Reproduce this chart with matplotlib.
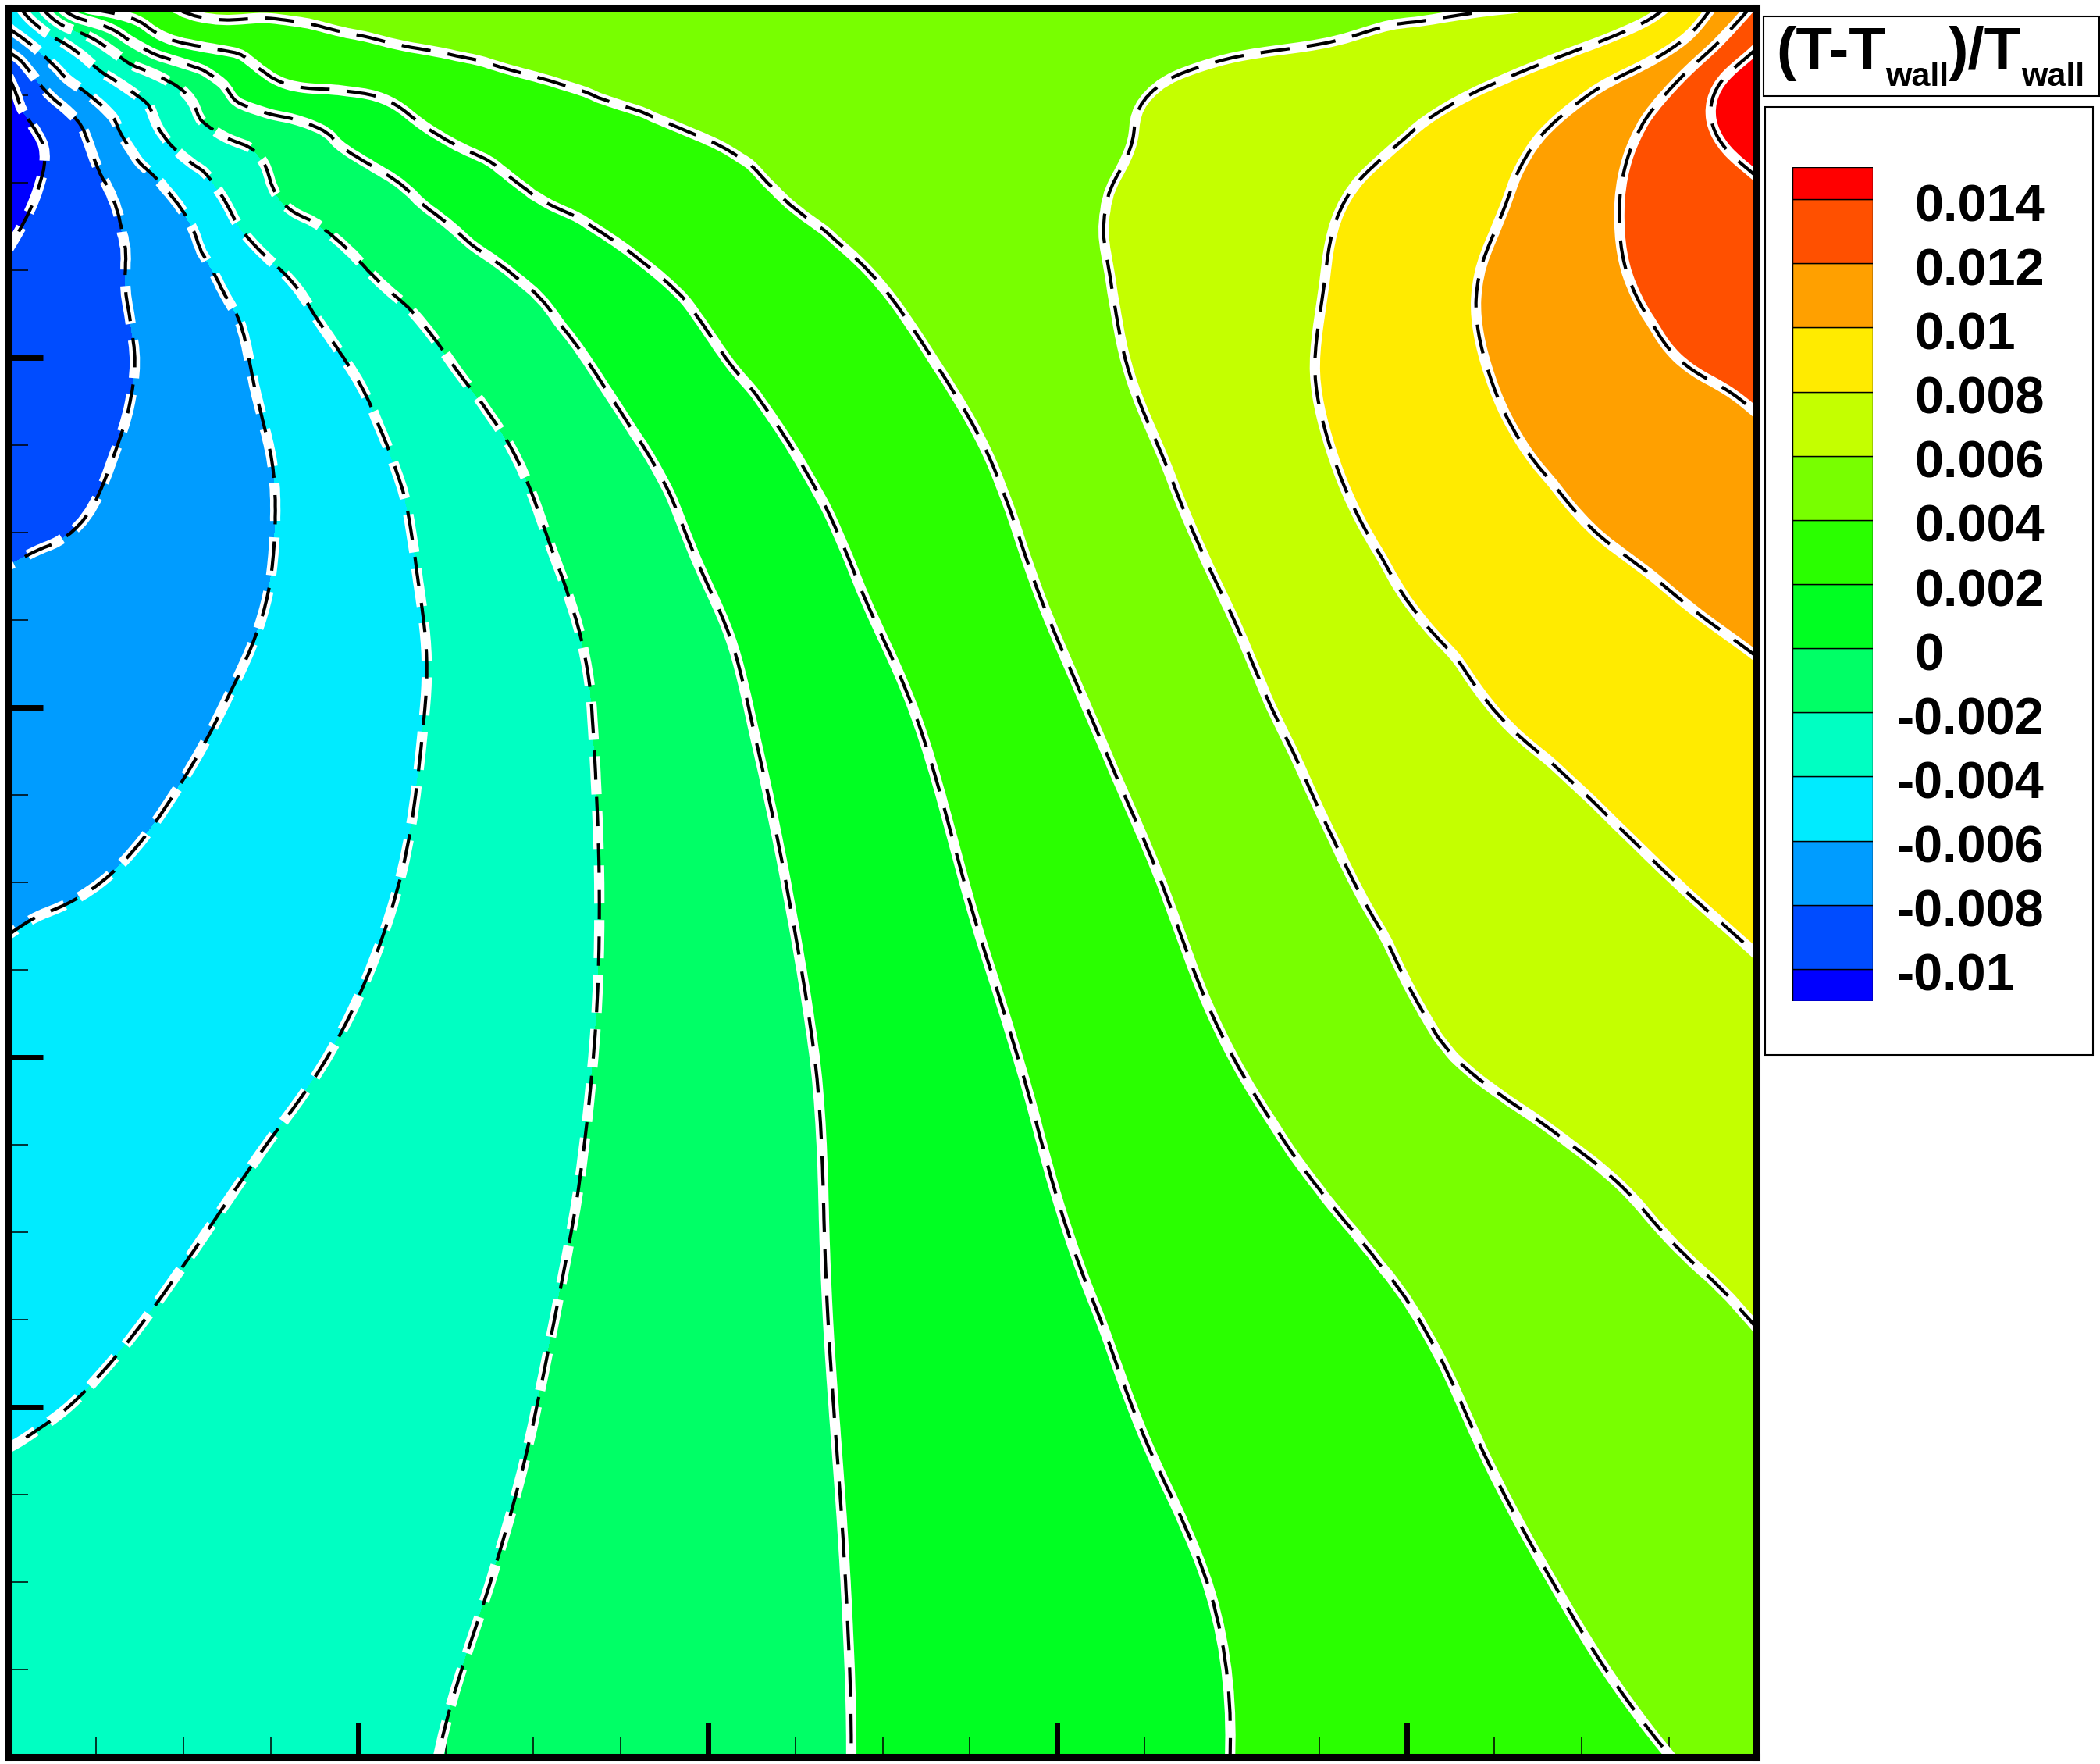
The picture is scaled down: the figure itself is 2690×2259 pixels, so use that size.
import numpy as np
import matplotlib
matplotlib.use('Agg')
import matplotlib.pyplot as plt
import matplotlib.tri as mtri
from matplotlib.patches import Rectangle
from matplotlib.ticker import MultipleLocator
from matplotlib.transforms import blended_transform_factory

# Grid nodes (fraction of the box width / height)
x_nodes = [0, 0.02, 0.05, 0.1, 0.15, 0.2, 0.25, 0.3, 0.35, 0.4, 0.45, 0.5,
           0.55, 0.6, 0.65, 0.7, 0.75, 0.8, 0.85, 0.9, 0.93, 0.96, 0.98, 1.0]
y_nodes = [0, 0.1, 0.2, 0.3, 0.4, 0.5, 0.6, 0.65, 0.7, 0.75, 0.8, 0.85,
           0.9, 0.93, 0.96, 0.98, 1.0]

# (T-Twall)/Twall, in units of 1e-3, one row per y node
t_rows = [
    [-3.45, -3.33, -3.15, -2.86, -2.56, -2.27, -1.97, -1.54, -1.12, -0.70, -0.28, 0.16, 0.62, 1.08, 1.55, 2.01, 2.40, 2.80, 3.20, 3.59, 3.83, 4.07, 4.23, 4.39],
    [-3.60, -3.48, -3.31, -3.03, -2.74, -2.46, -2.17, -1.80, -1.30, -0.79, -0.29, 0.21, 0.69, 1.17, 1.66, 2.14, 2.65, 3.16, 3.66, 4.17, 4.47, 4.77, 4.97, 5.18],
    [-4.15, -4.07, -3.90, -3.52, -3.15, -2.77, -2.39, -2.02, -1.44, -0.84, -0.26, 0.33, 0.92, 1.50, 2.08, 2.60, 3.14, 3.67, 4.19, 4.73, 5.05, 5.36, 5.57, 5.75],
    [-4.82, -4.68, -4.46, -4.11, -3.66, -3.19, -2.71, -2.23, -1.65, -0.94, -0.24, 0.48, 1.20, 1.92, 2.54, 3.15, 3.76, 4.35, 4.90, 5.46, 5.80, 6.14, 6.30, 6.45],
    [-5.49, -5.33, -5.09, -4.69, -4.29, -3.81, -3.14, -2.47, -1.77, -0.97, -0.18, 0.67, 1.54, 2.38, 3.19, 3.99, 4.83, 5.65, 6.22, 6.62, 6.85, 7.09, 7.24, 7.40],
    [-6.24, -6.15, -6.02, -5.48, -4.89, -4.31, -3.58, -2.68, -1.78, -0.84, 0.10, 1.08, 2.06, 2.94, 3.83, 4.76, 5.70, 6.37, 6.90, 7.43, 7.75, 8.06, 8.26, 8.47],
    [-7.20, -7.01, -6.73, -6.27, -5.61, -4.71, -3.77, -2.71, -1.65, -0.52, 0.57, 1.64, 2.67, 3.67, 4.65, 5.60, 6.46, 7.25, 8.02, 8.56, 8.89, 9.21, 9.43, 9.65],
    [-7.68, -7.45, -7.10, -6.53, -5.91, -4.83, -3.73, -2.58, -1.41, -0.21, 0.95, 2.10, 3.10, 4.09, 5.04, 5.98, 6.92, 7.87, 8.52, 9.13, 9.50, 9.87, 10.09, 10.29],
    [-8.19, -8.10, -7.83, -6.94, -6.05, -4.79, -3.50, -2.19, -0.93, 0.32, 1.48, 2.53, 3.48, 4.45, 5.45, 6.45, 7.49, 8.38, 9.13, 9.89, 10.25, 10.57, 10.79, 11.01],
    [-8.73, -8.51, -8.19, -7.21, -5.97, -4.50, -3.04, -1.62, -0.31, 0.91, 2.06, 2.95, 3.85, 4.84, 5.85, 6.87, 7.89, 8.83, 9.74, 10.46, 10.85, 11.23, 11.48, 11.74],
    [-9.28, -8.94, -8.44, -7.24, -5.54, -3.70, -2.04, -0.74, 0.53, 1.79, 2.68, 3.52, 4.38, 5.29, 6.21, 7.12, 8.05, 9.09, 10.11, 11.03, 11.58, 12.07, 12.27, 12.47],
    [-9.82, -9.30, -8.51, -6.78, -4.28, -2.18, -0.87, 0.38, 1.61, 2.55, 3.35, 4.13, 4.85, 5.56, 6.32, 7.12, 7.93, 9.04, 10.18, 11.41, 12.09, 12.57, 12.88, 13.20],
    [-10.40, -9.93, -8.33, -5.12, -2.00, -0.55, 0.89, 2.18, 2.87, 3.56, 4.18, 4.67, 5.17, 5.66, 6.22, 6.92, 7.63, 8.56, 9.71, 11.25, 12.19, 12.92, 13.41, 13.90],
    [-10.60, -9.77, -7.30, -3.00, -0.90, 0.67, 2.23, 2.90, 3.55, 4.13, 4.51, 4.89, 5.27, 5.65, 6.06, 6.68, 7.31, 7.93, 9.14, 10.68, 11.89, 13.17, 14.20, 14.90],
    [-10.05, -7.37, -4.61, -1.22, 1.97, 2.68, 3.37, 3.97, 4.40, 4.70, 4.95, 5.18, 5.40, 5.62, 5.88, 6.33, 6.85, 7.36, 7.88, 9.23, 10.39, 12.28, 13.90, 14.80],
    [-7.12, -5.07, -2.24, 2.04, 3.04, 3.85, 4.25, 4.45, 4.60, 4.74, 4.89, 5.05, 5.22, 5.40, 5.58, 5.77, 5.97, 6.48, 7.13, 7.78, 8.67, 10.31, 12.21, 13.80],
    [-5.00, -1.83, 2.40, 4.15, 4.40, 4.55, 4.65, 4.75, 4.85, 4.95, 5.05, 5.15, 5.25, 5.35, 5.45, 5.57, 5.70, 5.80, 5.90, 6.50, 7.30, 8.77, 10.53, 12.30],
]

levels = [-0.01, -0.008, -0.006, -0.004, -0.002, 0.0, 0.002, 0.004,
          0.006, 0.008, 0.01, 0.012, 0.014]
level_labels = ['-0.01', '-0.008', '-0.006', '-0.004', '-0.002', '0', '0.002',
                '0.004', '0.006', '0.008', '0.01', '0.012', '0.014']
band_colors = ['#0000ff', '#004cff', '#009cff', '#00ebff', '#00ffc2', '#00ff66',
               '#00ff22', '#2aff00', '#78ff00', '#c4ff00', '#ffeb00', '#ffa000',
               '#ff5000', '#ff0000']

plt.rcParams['font.family'] = ['Liberation Sans', 'DejaVu Sans']

W, H = 2690, 2259
fig = plt.figure(figsize=(W / 100, H / 100), dpi=100)

# main contour box
ax = fig.add_axes([11 / W, 1 - 2250 / H, (2250 - 11) / W, (2250 - 10) / H])
Z = np.array(t_rows) * 1e-3

# triangulate the grid and let matplotlib smooth it (min-energy cubic) for drawing
nx, ny = len(x_nodes), len(y_nodes)
xx, yy = np.meshgrid(x_nodes, y_nodes)
tris = []
for j in range(ny - 1):
    for i in range(nx - 1):
        a = j * nx + i
        tris.append([a, a + 1, a + nx + 1])
        tris.append([a, a + nx + 1, a + nx])
tri = mtri.Triangulation(xx.ravel(), yy.ravel(), tris)
interp = mtri.CubicTriInterpolator(tri, Z.ravel(), kind='min_E')
tri_f, z_f = mtri.UniformTriRefiner(tri).refine_field(Z.ravel(), triinterpolator=interp, subdiv=3)

ax.tricontourf(tri_f, z_f, levels=[-1.0] + levels + [1.0], colors=band_colors)
ax.tricontour(tri_f, z_f, levels=levels, colors='white', linewidths=9.5)
dash = ax.tricontour(tri_f, z_f, levels=levels, colors='black', linewidths=3.0)
dash.set_linestyle((0, (9, 5.3)))

ax.set_xlim(0, 1)
ax.set_ylim(0, 1)
ax.set_xticks([0, 0.2, 0.4, 0.6, 0.8, 1.0])
ax.set_yticks([0, 0.2, 0.4, 0.6, 0.8, 1.0])
ax.xaxis.set_minor_locator(MultipleLocator(0.05))
ax.yaxis.set_minor_locator(MultipleLocator(0.05))
ax.tick_params(which='both', direction='in', top=False, right=False,
               labelbottom=False, labelleft=False)
ax.tick_params(which='major', length=32, width=5)
ax.tick_params(which='minor', length=18, width=1.1)
for sp in ax.spines.values():
    sp.set_linewidth(6.5)
    sp.set_zorder(5)

# legend: title box and colour key box
fig.add_artist(Rectangle((2259 / W, 1 - 123 / H), 430 / W, 102 / H,
                         transform=fig.transFigure, fill=False, lw=1.5, ec='black'))
fig.add_artist(Rectangle((2261 / W, 1 - 1351 / H), 420 / W, 1214 / H,
                         transform=fig.transFigure, fill=False, lw=1.5, ec='black'))

renderer = fig.canvas.get_renderer()


def piece(s, x, base, size):
    t = fig.text(x / W, 1 - base / H, s, fontsize=size, fontweight='bold',
                 va='baseline', ha='left')
    return t.get_window_extent(renderer).x1


x = piece('(T-T', 2275, 88, 55)
x = piece('wall', x, 110, 31)
x = piece(')/T', x, 88, 55)
piece('wall', x, 110, 31)

# colour key swatches
key = fig.add_axes([2296 / W, 1 - 1282 / H, 103 / W, 1068 / H])
bottoms = [-0.011] + levels
tops = levels + [0.015]
heights = [t - b for t, b in zip(tops, bottoms)]
key.bar(0.5, heights, bottom=bottoms, width=1.0, color=band_colors,
        edgecolor='black', linewidth=1.0)
key.set_xlim(0, 1)
key.set_ylim(-0.011, 0.015)
key.axis('off')

trans = blended_transform_factory(key.transAxes, key.transData)
for lev, lab in zip(levels, level_labels):
    xpos = (2429 - 2296) / 103 if lab.startswith('-') else (2452 - 2296) / 103
    key.text(xpos, lev - 0.000268, lab, transform=trans, fontsize=48,
             fontweight='bold', va='center', ha='left')

fig.savefig('out.png', dpi=100)
